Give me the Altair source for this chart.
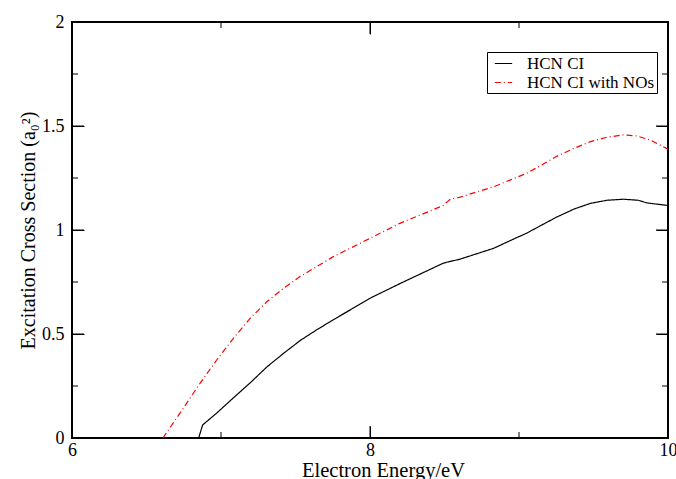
import altair as alt
import pandas as pd

# ---- data ----
series_names = ["HCN CI", "HCN CI with NOs"]

ci_energy = [6.85, 6.877, 6.97, 7.08, 7.2, 7.31, 7.42, 7.53, 7.64, 7.75, 7.87, 8.0,
             8.2, 8.49, 8.52, 8.6, 8.83, 8.98, 9.05, 9.14, 9.25, 9.37, 9.48, 9.59,
             9.70, 9.80, 9.86, 9.93, 10.0]
ci_sigma = [0.0, 0.063, 0.119, 0.191, 0.268, 0.343, 0.407, 0.468, 0.519, 0.567, 0.617, 0.672,
            0.742, 0.840, 0.846, 0.859, 0.912, 0.962, 0.984, 1.019, 1.061, 1.101, 1.128, 1.143,
            1.148, 1.143, 1.130, 1.124, 1.118]

no_energy = [6.61, 6.747, 6.859, 6.971, 7.083, 7.195, 7.307, 7.419, 7.53, 7.642, 7.754, 7.866,
             8.0, 8.2, 8.49, 8.54, 8.60, 8.83, 8.94, 9.05, 9.14, 9.25, 9.37, 9.48, 9.59,
             9.70, 9.79, 9.88, 9.98, 10.0]
no_sigma = [0.0, 0.143, 0.263, 0.375, 0.479, 0.575, 0.655, 0.719, 0.776, 0.824, 0.872, 0.912,
            0.960, 1.032, 1.117, 1.149, 1.157, 1.208, 1.240, 1.272, 1.308, 1.353, 1.393, 1.425, 1.446,
            1.457, 1.452, 1.433, 1.396, 1.388]

x_major = [6, 8, 10]
x_minor = [7, 9]
y_major = [0, 0.5, 1, 1.5, 2]
y_minor = [0.25, 0.75, 1.25, 1.75]

x_title = "Electron Energy/eV"
y_title = "Excitation Cross Section (a₀²)"

# ---- layout / style ----
W, H = 596, 416
FONT = "Liberation Serif"
MAJOR, MINOR = 12, 6          # tick lengths in pixels

df = pd.concat([
    pd.DataFrame({"E": ci_energy, "S": ci_sigma, "series": series_names[0]}),
    pd.DataFrame({"E": no_energy, "S": no_sigma, "series": series_names[1]}),
], ignore_index=True)

xs = alt.Scale(domain=[6, 10], nice=False, zero=False)
ys = alt.Scale(domain=[0, 2], nice=False, zero=False)

# inward ticks: the axis is pulled into the plot by the tick length,
# so that its outward ticks end on the frame
x_axis = alt.Axis(values=x_major, title=x_title, labelFlush=False,
                  labelExpr="'' + datum.value",
                  labelFontSize=18, labelPadding=3, titleFontSize=20.5, titlePadding=1,
                  titleX=311, ticks=True, tickSize=MAJOR, tickWidth=1, tickColor="black",
                  offset=-MAJOR)
y_axis = alt.Axis(values=y_major, title=y_title,
                  labelExpr="'' + datum.value",
                  labelFontSize=18, labelPadding=8, titleFontSize=20, titlePadding=3,
                  ticks=True, tickSize=MAJOR, tickWidth=1, tickColor="black",
                  offset=-MAJOR)
x_top_axis = alt.Axis(orient="top", values=x_major, labels=False, title=None,
                      ticks=True, tickSize=MAJOR, tickWidth=1, tickColor="black",
                      offset=-MAJOR)
y_right_axis = alt.Axis(orient="right", values=y_major, labels=False, title=None,
                        ticks=True, tickSize=MAJOR, tickWidth=1, tickColor="black",
                        offset=-MAJOR)

lines = alt.Chart(df).mark_line(clip=True, strokeWidth=1.2).encode(
    x=alt.X("E:Q", scale=xs, axis=x_axis),
    y=alt.Y("S:Q", scale=ys, axis=y_axis),
    color=alt.Color("series:N", scale=alt.Scale(domain=series_names, range=["black", "red"]),
                    legend=alt.Legend(title=None, orient="none", legendX=415, legendY=30)),
    strokeDash=alt.StrokeDash("series:N",
                              scale=alt.Scale(domain=series_names, range=[[1, 0], [6, 3, 1, 3]]),
                              legend=alt.Legend(title=None, orient="none", legendX=415, legendY=30)),
    order=alt.Order("E:Q"),
)


def x_ticks(vals, length, top_axis=None):
    d = pd.DataFrame({"v": vals})
    bottom = alt.Chart(d).mark_rule(color="black", strokeWidth=1).encode(
        x=alt.X("v:Q", scale=xs, axis=top_axis), y=alt.value(H), y2=alt.value(H - length))
    top = alt.Chart(d).mark_rule(color="black", strokeWidth=1).encode(
        x=alt.X("v:Q", scale=xs, axis=None), y=alt.value(0), y2=alt.value(length))
    return [bottom, top]


def y_ticks(vals, length, right_axis=None):
    d = pd.DataFrame({"v": vals})
    left = alt.Chart(d).mark_rule(color="black", strokeWidth=1).encode(
        y=alt.Y("v:Q", scale=ys, axis=right_axis), x=alt.value(0), x2=alt.value(length))
    right = alt.Chart(d).mark_rule(color="black", strokeWidth=1).encode(
        y=alt.Y("v:Q", scale=ys, axis=None), x=alt.value(W), x2=alt.value(W - length))
    return [left, right]


layers = [lines] + x_ticks(x_major, MAJOR, x_top_axis) + x_ticks(x_minor, MINOR) \
    + y_ticks(y_major, MAJOR, y_right_axis) + y_ticks(y_minor, MINOR)

chart = alt.layer(*layers).resolve_axis(
    x="independent", y="independent"
).properties(
    width=W, height=H,
    autosize=alt.AutoSizeParams(type="none"),
    padding={"left": 72, "top": 22, "right": 8, "bottom": 41},
    background="white",
).configure_view(
    stroke="black", strokeWidth=2
).configure_axis(
    domain=False, grid=False,
    labelFont=FONT, titleFont=FONT, labelColor="black", titleColor="black",
    titleFontWeight="normal",
).configure_legend(
    labelFont=FONT, labelFontSize=17, labelColor="black",
    strokeColor="black", strokeWidth=1, fillColor="white",
    padding=2, symbolOffset=5, symbolType="stroke", symbolSize=300,
    symbolStrokeWidth=1.2, labelOffset=14, rowPadding=1,
)

chart.save("out.html", embed_options={"renderer": "svg", "actions": False})
